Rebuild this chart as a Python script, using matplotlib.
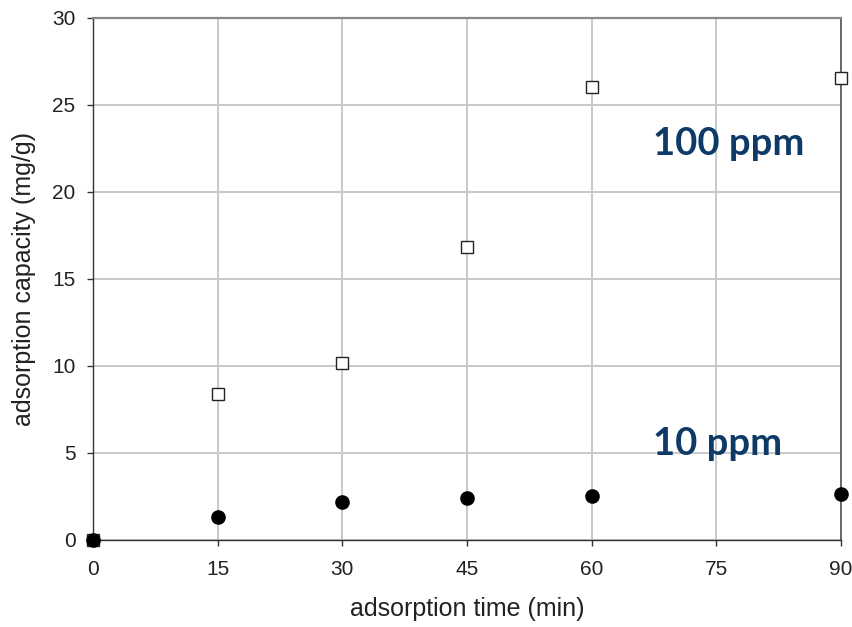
"""Adsorption capacity vs time for two initial concentrations."""

import matplotlib
matplotlib.use("Agg")
import matplotlib.pyplot as plt

time_min = [0, 15, 30, 45, 60, 90]
cap_100ppm = [0, 8.39, 10.17, 16.84, 26.03, 26.55]
cap_10ppm = [0, 1.32, 2.18, 2.41, 2.53, 2.64]
x_ticks = [0, 15, 30, 45, 60, 75, 90]
y_ticks = [0, 5, 10, 15, 20, 25, 30]

plt.rcParams["font.family"] = ["Liberation Sans", "DejaVu Sans"]

fig = plt.figure(figsize=(8.53, 6.27), dpi=100)
ax = fig.add_axes([0.109, 0.1388, 0.877, 0.8325])

ax.plot(time_min, cap_100ppm, linestyle="none", marker="s", markersize=8.5,
        markerfacecolor="white", markeredgecolor="#222222", markeredgewidth=1.0,
        clip_on=False, zorder=3)
ax.plot(time_min, cap_10ppm, linestyle="none", marker="o", markersize=9.5,
        color="black", clip_on=False, zorder=4)

ax.set_xlim(0, 90)
ax.set_ylim(0, 30)
ax.set_xticks(x_ticks)
ax.set_yticks(y_ticks)
ax.grid(True, color="#c8c8c8", linewidth=1.4)
ax.set_axisbelow(True)

ax.tick_params(axis="both", direction="out", length=4.5, width=1.0, color="#333333",
               labelsize=15, labelcolor="#222222")
ax.tick_params(axis="y", pad=8)
ax.tick_params(axis="x", pad=10)
for side in ("left", "bottom"):
    ax.spines[side].set_color("#333333")
    ax.spines[side].set_linewidth(1.0)
ax.spines["top"].set_color("#888888")
ax.spines["top"].set_linewidth(1.6)
ax.spines["right"].set_color("#555555")
ax.spines["right"].set_linewidth(1.2)

ax.set_xlabel("adsorption time (min)", fontsize=18, color="#222222", labelpad=13)
ax.set_ylabel("adsorption capacity (mg/g)", fontsize=18, color="#222222", labelpad=12)

ax.text(67.4, 22.1, "100 ppm", fontsize=27.5, fontweight="bold", color="#0d3a66",
        family=["Lato", "DejaVu Sans"])
ax.text(67.4, 4.9, "10 ppm", fontsize=27.5, fontweight="bold", color="#0d3a66",
        family=["Lato", "DejaVu Sans"])

fig.savefig("out.png", dpi=100, facecolor="white")
plt.close(fig)
